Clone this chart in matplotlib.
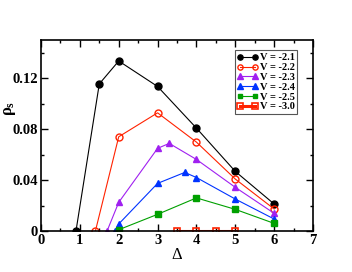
import matplotlib
matplotlib.use("Agg")
import matplotlib.pyplot as plt
from matplotlib.ticker import MultipleLocator, FuncFormatter

x_21 = [0.9, 1.5, 2, 3, 4, 5, 6]
y_21 = [0.0, 0.1155, 0.1335, 0.1135, 0.0808, 0.0468, 0.0212]
x_22 = [1.4, 2, 3, 4, 5, 6]
y_22 = [0.0, 0.074, 0.0928, 0.0698, 0.0408, 0.0173]
x_23 = [1.7, 2, 3, 3.3, 4, 5, 6]
y_23 = [0.0, 0.0225, 0.0649, 0.0688, 0.0562, 0.0343, 0.0139]
x_24 = [1.9, 2, 3, 3.7, 4, 5, 6]
y_24 = [0.0, 0.0055, 0.0374, 0.046, 0.042, 0.0251, 0.0094]
x_25 = [2, 3, 4, 5, 6]
y_25 = [0.001, 0.0131, 0.026, 0.017, 0.006]
x_30 = [3.5, 4, 4.5, 5]
y_30 = [0.0, 0.0, 0.0, 0.0]

plt.rcParams['font.family'] = ['Liberation Serif', 'DejaVu Serif']
plt.rcParams['font.weight'] = 'bold'
plt.rcParams['mathtext.fontset'] = 'custom'
plt.rcParams['mathtext.rm'] = 'Liberation Serif'
plt.rcParams['mathtext.it'] = 'Liberation Serif'

fig = plt.figure(figsize=(3.52, 2.72), dpi=100)
ax = fig.add_axes([0.1165, 0.1507, 0.7727, 0.7023])

ms = 5
ax.plot(x_21, y_21, '-o', color='black', lw=0.8, ms=ms, label='V = -2.1')
ax.plot(x_22, y_22, '-o', color='#ff2200', mfc='none', mew=1.0, lw=0.8, ms=ms, label='V = -2.2')
ax.plot(x_23, y_23, '-^', color='#a020f0', lw=0.8, ms=ms, label='V = -2.3')
ax.plot(x_24, y_24, '-^', color='#0033ff', lw=0.8, ms=ms, label='V = -2.4')
ax.plot(x_25, y_25, '-s', color='#00a000', lw=0.8, ms=4, label='V = -2.5')
ax.plot(x_30, y_30, '-s', color='#ff2200', mfc='none', mew=1.2, lw=2.2, ms=ms, label='V = -3.0')

ax.set_xlim(0, 7)
ax.set_ylim(0, 0.15)
ax.xaxis.set_major_locator(MultipleLocator(1))
ax.xaxis.set_minor_locator(MultipleLocator(0.5))
ax.yaxis.set_major_locator(MultipleLocator(0.04))
ax.yaxis.set_minor_locator(MultipleLocator(0.02))
ax.yaxis.set_major_formatter(FuncFormatter(lambda v, p: '0' if abs(v) < 1e-9 else f'{v:.2f}'))
ax.tick_params(which='both', direction='in', top=True, right=True, labelsize=10.5, width=1.0, pad=2)
ax.tick_params(which='major', length=5)
ax.tick_params(which='minor', length=2.5)
for s in ax.spines.values():
    s.set_linewidth(1.2)
for lab in ax.get_xticklabels() + ax.get_yticklabels():
    lab.set_fontweight('bold')

ax.set_xlabel('Δ', fontsize=12, labelpad=0)
ax.set_ylabel(r'$\rho_s$', fontsize=12)
ax.yaxis.set_label_coords(-0.085, 0.64)

leg = ax.legend(loc='upper right', bbox_to_anchor=(0.942, 0.945), fontsize=7.5, handlelength=2.0,
                numpoints=2, handletextpad=0.15, labelspacing=0.05, borderpad=0.25, borderaxespad=0.0,
                fancybox=False, edgecolor='#555555', framealpha=1, markerscale=0.75)
leg.get_frame().set_linewidth(0.8)
for t in leg.get_texts():
    t.set_fontweight('bold')

fig.savefig('out.png', dpi=100)
